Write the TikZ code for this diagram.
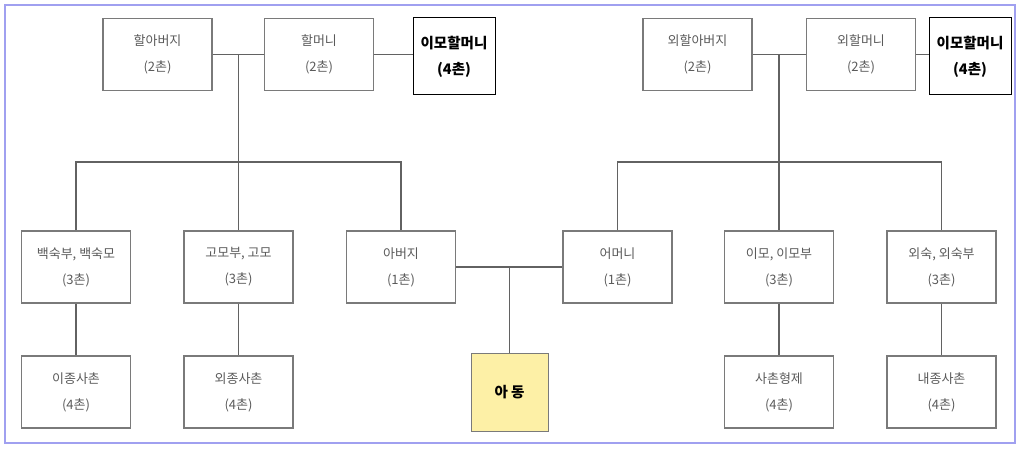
\documentclass[tikz,border=0pt]{standalone}
\usepackage{fontspec}
\setmainfont{Noto Sans CJK KR}
\definecolor{boxgray}{HTML}{7A7A7A}
\definecolor{txtgray}{HTML}{5A5A5A}
\definecolor{framec}{HTML}{A0A0F0}
\definecolor{childy}{HTML}{FDF0A6}
\begin{document}
\begin{tikzpicture}[x=1pt,y=-1pt,
  gbox/.style={draw=boxgray,line width=1.7pt,rectangle,inner sep=0pt,
    minimum width=109pt,minimum height=72pt,text=txtgray,align=center,
    font=\fontsize{13}{26}\selectfont},
  bbox/.style={draw=black,line width=1pt,rectangle,inner sep=0pt,
    minimum width=82pt,minimum height=77pt,text=black,align=center,
    font=\fontsize{14.5}{26}\selectfont\bfseries},
  link/.style={draw=boxgray!80!black,line width=1.5pt}]
\useasboundingbox (0,0) rectangle (1024,449);
\draw[framec,line width=1.5pt] (5,5) rectangle (1015,443);
% top row
\node[gbox] (hal) at (157.5,54.5) {할아버지\\(2촌)};
\node[gbox] (halm) at (319,54.5) {할머니\\(2촌)};
\node[bbox] (imoh1) at (454,56.5) {이모할머니\\(4촌)};
\node[gbox] (ohal) at (697.5,54.5) {외할아버지\\(2촌)};
\node[gbox] (ohalm) at (861,54.5) {외할머니\\(2촌)};
\node[bbox] (imoh2) at (970,56.5) {이모할머니\\(4촌)};
% middle row
\node[gbox] (baek) at (76,267) {백숙부, 백숙모\\(3촌)};
\node[gbox] (gomo) at (238.5,267) {고모부, 고모\\(3촌)};
\node[gbox] (abeoji) at (401,267) {아버지\\(1촌)};
\node[gbox] (eomeoni) at (617.5,267) {어머니\\(1촌)};
\node[gbox] (imo) at (779,267) {이모, 이모부\\(3촌)};
\node[gbox] (oesuk) at (941.5,267) {외숙, 외숙부\\(3촌)};
% bottom row
\node[gbox] (ijong) at (76,392) {이종사촌\\(4촌)};
\node[gbox] (oejong) at (238.5,392) {외종사촌\\(4촌)};
\node[draw=boxgray,line width=1pt,fill=childy,rectangle,inner sep=0pt,
  minimum width=77pt,minimum height=78pt,font=\fontsize{14.5}{26}\selectfont\bfseries] (adong) at (509.5,392) {아 동};
\node[gbox] (sachon) at (779,392) {사촌형제\\(4촌)};
\node[gbox] (naejong) at (941.5,392) {내종사촌\\(4촌)};
% junctions
\coordinate (j1) at (238.5,162);
\coordinate (j2) at (779,162);
\coordinate (jc) at (509.5,267);
% connectors left
\draw[link] (hal.east) -- (halm.west);
\draw[link] (halm.east) -- (imoh1.west |- halm.east);
\draw[link] (gomo.north |- hal.east) -- (gomo.north);
\draw[link] (baek.north) |- (j1) -| (abeoji.north);
\draw[link] (baek.south) -- (ijong.north);
\draw[link] (gomo.south) -- (oejong.north);
% connectors right
\draw[link] (ohal.east) -- (ohalm.west);
\draw[link] (ohalm.east) -- (imoh2.west |- ohalm.east);
\draw[link] (imo.north |- ohal.east) -- (imo.north);
\draw[link] (eomeoni.north) |- (j2) -| (oesuk.north);
\draw[link] (imo.south) -- (sachon.north);
\draw[link] (oesuk.south) -- (naejong.north);
% parents and child
\draw[link] (abeoji.east) -- (eomeoni.west);
\draw[link] (jc) -- (adong.north);
\end{tikzpicture}
\end{document}
